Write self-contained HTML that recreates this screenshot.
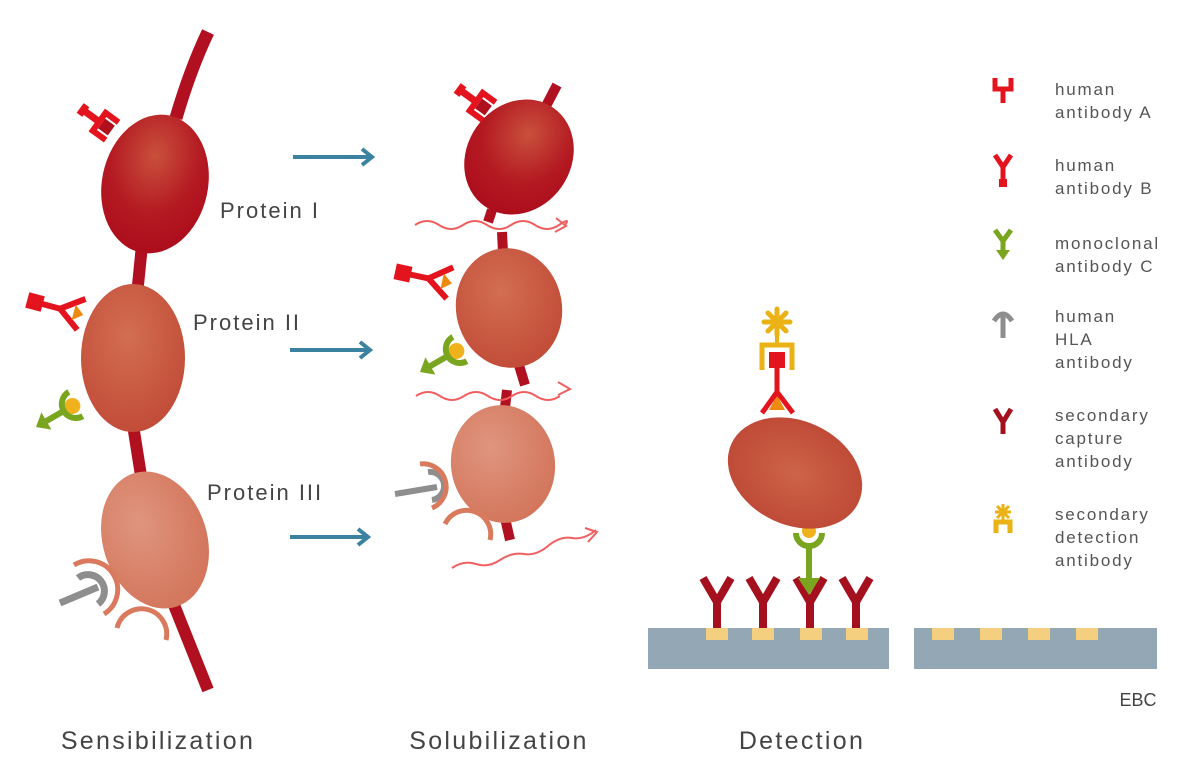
<!DOCTYPE html>
<html><head><meta charset="utf-8"><style>
html,body{margin:0;padding:0;background:#fff}
svg{display:block}
text{font-family:"Liberation Sans","DejaVu Sans",sans-serif}
</style></head><body>
<svg width="1200" height="766" viewBox="0 0 1200 766" xmlns="http://www.w3.org/2000/svg">
<defs>
<radialGradient id="g1" cx="0.45" cy="0.3" r="0.7"><stop offset="0" stop-color="#c9503c"/><stop offset="0.6" stop-color="#b41a22"/><stop offset="1" stop-color="#ad0d1c"/></radialGradient>
<radialGradient id="g2" cx="0.45" cy="0.35" r="0.7"><stop offset="0" stop-color="#d36e52"/><stop offset="1" stop-color="#c04a36"/></radialGradient>
<radialGradient id="g3" cx="0.4" cy="0.35" r="0.7"><stop offset="0" stop-color="#e0957e"/><stop offset="1" stop-color="#d2745a"/></radialGradient>
<radialGradient id="g4" cx="0.5" cy="0.5" r="0.6"><stop offset="0" stop-color="#cd6448"/><stop offset="1" stop-color="#bc4634"/></radialGradient>
<g id="abA">
 <line x1="0" y1="0" x2="20" y2="0" stroke="#e4141f" stroke-width="7"/>
 <line x1="0" y1="-6" x2="0" y2="6" stroke="#e4141f" stroke-width="7"/>
 <rect x="23" y="-6" width="12" height="12" fill="#b00f1d"/>
 <path d="M36,-11 H20 V11 H36" fill="none" stroke="#e4141f" stroke-width="6"/>
</g>
<g id="abB">
 <rect x="-8" y="-8" width="16" height="16" fill="#e4141f"/>
 <line x1="0" y1="0" x2="26" y2="0" stroke="#e4141f" stroke-width="6"/>
 <path d="M48,-16 L26,0 L48,16" fill="none" stroke="#e4141f" stroke-width="6"/>
 <path d="M40,-8 L50,0 L40,8 Z" fill="#ef8a10"/>
</g>
<g id="abC">
 <path d="M0,0 L12,-10 L12,10 Z" fill="#7aa51f"/>
 <line x1="10" y1="0" x2="30" y2="0" stroke="#7aa51f" stroke-width="6"/>
 <circle cx="42" cy="0" r="8" fill="#f0b21c"/>
 <path d="M46,-14 A14,14 0 0 0 46,14" fill="none" stroke="#7aa51f" stroke-width="6"/>
</g>
<g id="ycap">
 <line x1="0" y1="0" x2="0" y2="-26" stroke="#a5101f" stroke-width="8"/>
 <path d="M-14,-50 L0,-26 L14,-50" fill="none" stroke="#a5101f" stroke-width="8" stroke-linejoin="round"/>
</g>
</defs>

<!-- LEFT COLUMN -->
<path d="M208,32 Q190,70 176,118" stroke="#b0101f" stroke-width="13" fill="none"/>
<line x1="142" y1="245" x2="137" y2="295" stroke="#b0101f" stroke-width="12"/>
<line x1="133" y1="425" x2="142" y2="482" stroke="#b0101f" stroke-width="12"/>
<line x1="172" y1="600" x2="208" y2="690" stroke="#b0101f" stroke-width="12"/>
<ellipse cx="155" cy="184" rx="53" ry="70" transform="rotate(12 155 184)" fill="url(#g1)"/>
<ellipse cx="133" cy="358" rx="52" ry="74" fill="url(#g2)"/>
<ellipse cx="155" cy="540" rx="52" ry="70" transform="rotate(-18 155 540)" fill="url(#g3)"/>
<use href="#abA" transform="translate(83,110) rotate(36)"/>
<use href="#abB" transform="translate(35,302) rotate(15)"/>
<use href="#abC" transform="translate(36,427) rotate(-30)"/>
<line x1="60" y1="603" x2="98" y2="587" stroke="#8e8e8e" stroke-width="7"/>
<path d="M78,578 A15,15 0 0 1 98,604" fill="none" stroke="#8e8e8e" stroke-width="7"/>
<path d="M74,565 A24,24 0 0 1 104,614" fill="none" stroke="#d97a5e" stroke-width="5"/>
<path d="M117,628 A24,24 0 0 1 166,640" fill="none" stroke="#d97a5e" stroke-width="5"/>

<g font-size="22" fill="#444" letter-spacing="2">
<text x="220" y="218">Protein I</text>
<text x="193" y="330">Protein II</text>
<text x="207" y="500">Protein III</text>
</g>

<g stroke="#3a82a0" stroke-width="4" fill="none">
<line x1="293" y1="157" x2="370" y2="157"/><path d="M362,149 L372,157 L362,165"/>
<line x1="290" y1="350" x2="368" y2="350"/><path d="M360,342 L370,350 L360,358"/>
<line x1="290" y1="537" x2="366" y2="537"/><path d="M358,529 L368,537 L358,545"/>
</g>

<!-- MIDDLE COLUMN -->
<line x1="557" y1="85" x2="545" y2="108" stroke="#b0101f" stroke-width="10"/>
<line x1="492" y1="210" x2="488" y2="222" stroke="#b0101f" stroke-width="10"/>
<line x1="502" y1="232" x2="503" y2="252" stroke="#b0101f" stroke-width="10"/>
<line x1="518" y1="362" x2="525" y2="385" stroke="#b0101f" stroke-width="10"/>
<line x1="507" y1="390" x2="505" y2="408" stroke="#b0101f" stroke-width="10"/>
<line x1="505" y1="518" x2="510" y2="540" stroke="#b0101f" stroke-width="10"/>
<ellipse cx="519" cy="157" rx="52" ry="60" transform="rotate(35 519 157)" fill="url(#g1)"/>
<ellipse cx="509" cy="308" rx="53" ry="60" transform="rotate(-10 509 308)" fill="url(#g2)"/>
<ellipse cx="503" cy="464" rx="52" ry="59" transform="rotate(-8 503 464)" fill="url(#g3)"/>
<use href="#abA" transform="translate(460,90) rotate(36)"/>
<use href="#abB" transform="translate(403,273) rotate(12)"/>
<use href="#abC" transform="translate(420,372) rotate(-30)"/>
<line x1="395" y1="494" x2="437" y2="487" stroke="#8e8e8e" stroke-width="6"/>
<path d="M428,472 A14,14 0 0 1 432,500" fill="none" stroke="#8e8e8e" stroke-width="6"/>
<path d="M420,464 A23,23 0 0 1 432,508" fill="none" stroke="#d97a5e" stroke-width="5"/>
<path d="M445,524 A24,24 0 0 1 490,540" fill="none" stroke="#d97a5e" stroke-width="5"/>
<g stroke="#f06060" stroke-width="2" fill="none">
<path d="M415,225 q12,-8 24,0 t24,0 t24,0 t24,0 t24,0 t24,0 t6,0"/><path d="M556,218 L566,226 L555,232"/>
<path d="M416,396 q12,-8 24,0 t24,0 t24,0 t24,0 t24,0 t24,0"/><path d="M558,382 L570,389 L558,395"/>
<path d="M452,568 q12,-8 24,-4 t24,-4 t24,-6 t24,-8 t24,-8 t24,-8"/><path d="M585,528 L597,532 L588,542"/>
</g>

<!-- DETECTION -->
<rect x="648" y="628" width="241" height="41" fill="#94a7b5"/>
<rect x="914" y="628" width="243" height="41" fill="#94a7b5"/>
<g fill="#f5cf80">
<rect x="706" y="628" width="22" height="12"/><rect x="752" y="628" width="22" height="12"/><rect x="800" y="628" width="22" height="12"/><rect x="846" y="628" width="22" height="12"/>
<rect x="932" y="628" width="22" height="12"/><rect x="980" y="628" width="22" height="12"/><rect x="1028" y="628" width="22" height="12"/><rect x="1076" y="628" width="22" height="12"/>
</g>
<use href="#ycap" transform="translate(717,628)"/>
<use href="#ycap" transform="translate(763,628)"/>
<use href="#ycap" transform="translate(810,628)"/>
<use href="#ycap" transform="translate(856,628)"/>
<line x1="809" y1="548" x2="809" y2="585" stroke="#7aa51f" stroke-width="6"/>
<path d="M798,578 L820,578 L809,595 Z" fill="#7aa51f"/>
<path d="M796,533 A13,13 0 0 0 822,533" fill="none" stroke="#7aa51f" stroke-width="6"/>
<circle cx="809" cy="531" r="7" fill="#f0b21c"/>
<ellipse cx="795" cy="473" rx="70" ry="52" transform="rotate(25 795 473)" fill="url(#g4)"/>
<path d="M769,410 L777,395 L785,410 Z" fill="#ef8a10"/>
<line x1="777" y1="368" x2="777" y2="392" stroke="#e4141f" stroke-width="5"/>
<path d="M762,413 L777,392 L793,413" fill="none" stroke="#e4141f" stroke-width="5"/>
<rect x="769" y="352" width="16" height="16" fill="#e4141f"/>
<path d="M762,370 V345 H792 V370" fill="none" stroke="#eab214" stroke-width="5"/>
<line x1="777" y1="345" x2="777" y2="332" stroke="#eab214" stroke-width="4"/>
<g stroke="#eab214" stroke-width="5" stroke-linecap="round">
<line x1="777" y1="309" x2="777" y2="335"/><line x1="764" y1="322" x2="790" y2="322"/>
<line x1="768" y1="313" x2="786" y2="331"/><line x1="786" y1="313" x2="768" y2="331"/>
</g>

<text x="1138" y="706" font-size="18" fill="#444" text-anchor="middle">EBC</text>

<g font-size="25" fill="#444" text-anchor="middle" letter-spacing="2.3">
<text x="158" y="749">Sensibilization</text>
<text x="499" y="749">Solubilization</text>
<text x="802" y="749">Detection</text>
</g>

<!-- LEGEND -->
<g stroke-width="5" fill="none">
<path d="M995,78 V89 H1011 V78 M1003,89 V103" stroke="#e4141f"/>
<path d="M995,155 L1003,167 L1011,155 M1003,167 V182" stroke="#e4141f"/>
<rect x="999" y="179" width="8" height="8" fill="#e4141f" stroke="none"/>
<path d="M995,230 L1003,241 L1011,230 M1003,241 V252" stroke="#7aa51f"/>
<path d="M996,250 L1010,250 L1003,260 Z" fill="#7aa51f" stroke="none"/>
<path d="M994,321 Q1003,307 1012,321 M1003,314 V338" stroke="#8e8e8e"/>
<path d="M995,409 L1003,422 L1011,409 M1003,422 V434" stroke="#a5101f"/>
<path d="M996,533 V522 H1010 V533" stroke="#eab214"/>
<g stroke="#eab214" stroke-width="3"><line x1="1003" y1="504" x2="1003" y2="522"/><line x1="995" y1="512" x2="1011" y2="512"/><line x1="997" y1="506" x2="1009" y2="518"/><line x1="1009" y1="506" x2="997" y2="518"/></g>
</g>
<g font-size="17" fill="#555" letter-spacing="1.8">
<text x="1055" y="95">human</text><text x="1055" y="118">antibody A</text>
<text x="1055" y="171">human</text><text x="1055" y="194">antibody B</text>
<text x="1055" y="249">monoclonal</text><text x="1055" y="272">antibody C</text>
<text x="1055" y="322">human</text><text x="1055" y="345">HLA</text><text x="1055" y="368">antibody</text>
<text x="1055" y="421">secondary</text><text x="1055" y="444">capture</text><text x="1055" y="467">antibody</text>
<text x="1055" y="520">secondary</text><text x="1055" y="543">detection</text><text x="1055" y="566">antibody</text>
</g>
</svg>
</body></html>
